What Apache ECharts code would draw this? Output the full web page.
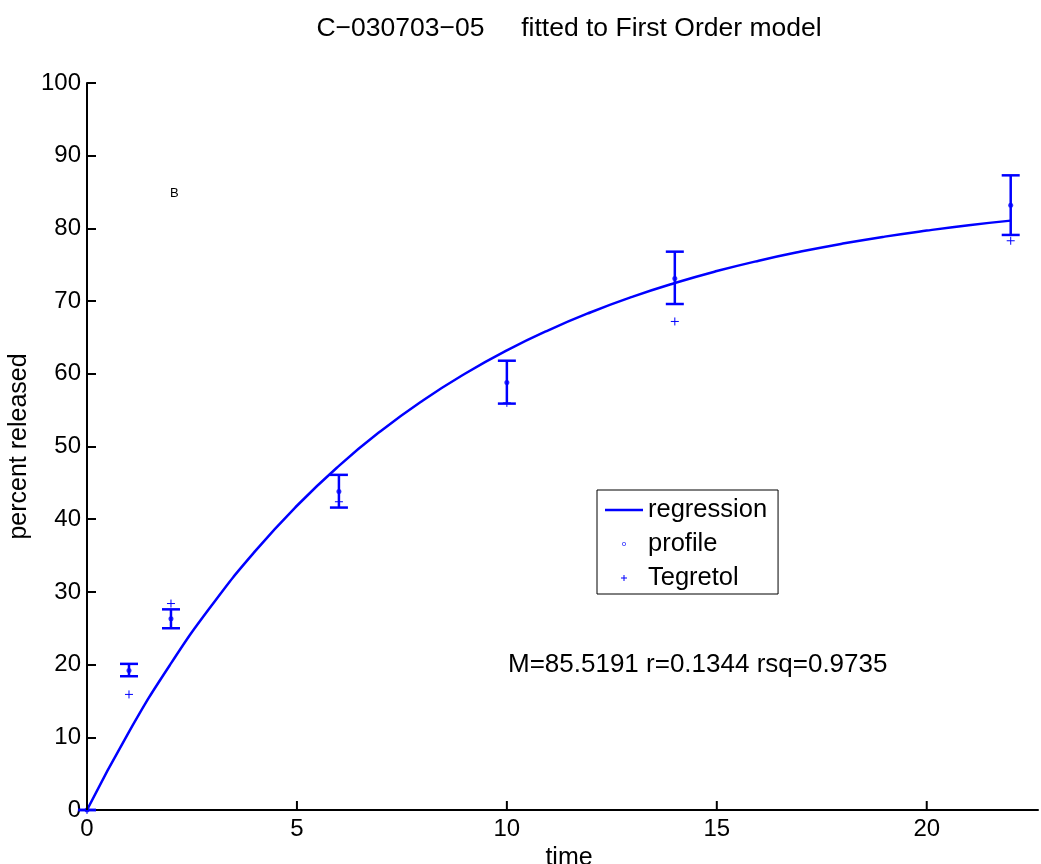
<!DOCTYPE html>
<html>
<head>
<meta charset="utf-8">
<script src="https://cdn.jsdelivr.net/npm/echarts@6/dist/echarts.min.js"></script>
<style>
html,body{margin:0;padding:0;background:#fff;}
#chart{width:1041px;height:864px;}
</style>
</head>
<body>
<div id="chart"></div>
<script>
// ---- data ----
var times        = [0, 1, 2, 6, 10, 14, 22];
var profileMean  = [0, 19.2, 26.3, 43.8, 58.8, 73.1, 83.2];
var profileLow   = [0, 18.4, 25.0, 41.6, 55.9, 69.6, 79.1];
var profileHigh  = [0, 20.1, 27.6, 46.1, 61.8, 76.8, 87.3];
var tegretol     = [0, 15.9, 28.4, 42.4, 56.0, 67.2, 78.3];

var fitTimes  = [0,1,2,3,4,5,6,7,8,9,10,11,12,13,14,15,16,17,18,19,20,21,22];
var fitValues = [0,10.76,20.16,28.38,35.57,41.85,47.34,52.14,56.34,60.01,63.22,66.02,68.47,70.62,72.49,74.13,75.56,76.81,77.91,78.87,79.70,80.44,81.07];

var xTicks = [0, 5, 10, 15, 20];
var titleText = 'C\u2212030703\u221205     fitted to First Order model';
var statsText = 'M=85.5191 r=0.1344 rsq=0.9735';

var BLUE = '#0000ff';
var FONT = '"Liberation Sans", Arial, sans-serif';

var fitData = fitTimes.map(function(t, i){ return [t, fitValues[i]]; });
var profData = times.map(function(t, i){ return [t, profileMean[i]]; });
var errData = times.map(function(t, i){ return [t, profileLow[i], profileHigh[i]]; });
var tegData = times.map(function(t, i){ return [t, tegretol[i]]; });

var chart = echarts.init(document.getElementById('chart'), null, {renderer: 'canvas'});

var option = {
  backgroundColor: '#fff',
  animation: false,
  title: {
    text: titleText,
    left: 564, top: 10, textAlign: 'center',
    textStyle: {fontFamily: FONT, fontSize: 26.5, fontWeight: 'normal', color: '#000'}
  },
  grid: {left: 87, right: 3, top: 83, bottom: 54, containLabel: false, outerBoundsMode: 'none'},
  xAxis: {
    type: 'value', min: 0, max: 22.65, interval: 5,
    axisLine: {show: true, onZero: false, lineStyle: {color: '#000', width: 2}},
    axisTick: {show: false},
    splitLine: {show: false},
    axisLabel: {
      color: '#000', fontFamily: FONT, fontSize: 24, margin: 7,
      showMaxLabel: false,
      formatter: function(v){ return (v % 5 === 0) ? String(v) : ''; }
    }
  },
  yAxis: {
    type: 'value', min: 0, max: 100, interval: 10,
    name: 'percent released', nameLocation: 'middle', nameGap: 55, nameRotate: 90,
    nameMoveOverlap: false,
    nameTextStyle: {color: '#000', fontFamily: FONT, fontSize: 25},
    axisLine: {show: true, onZero: false, lineStyle: {color: '#000', width: 2}},
    axisTick: {show: true, inside: true, length: 9, lineStyle: {color: '#000', width: 2}},
    splitLine: {show: false},
    axisLabel: {color: '#000', fontFamily: FONT, fontSize: 24, margin: 6}
  },
  legend: {
    orient: 'vertical',
    left: 597, top: 490,
    padding: [7, 11, 3, 8],
    itemWidth: 38, itemHeight: 14, itemGap: 8,
    borderColor: '#000', borderWidth: 1,
    backgroundColor: '#fff',
    textStyle: {fontFamily: FONT, fontSize: 25.5, color: '#000', lineHeight: 25},
    data: [
      {name: 'regression', icon: 'path://M0 0 M38 14 M0 5.8 L38 5.8 L38 8.2 L0 8.2 Z'},
      {name: 'profile', icon: 'path://M0 0 M38 14 M17 7 A2 2 0 1 0 21 7 A2 2 0 1 0 17 7 Z M17.8 7 A1.2 1.2 0 1 1 20.2 7 A1.2 1.2 0 1 1 17.8 7 Z'},
      {name: 'Tegretol', icon: 'path://M0 0 M38 14 M18.5 4 L19.5 4 L19.5 6.5 L22 6.5 L22 7.5 L19.5 7.5 L19.5 10 L18.5 10 L18.5 7.5 L16 7.5 L16 6.5 L18.5 6.5 Z'}
    ]
  },
  graphic: [
    {type: 'text', x: 569, y: 858, style: {text: 'time', font: '25px ' + FONT, fill: '#000', align: 'center', verticalAlign: 'middle'}},
    {type: 'text', x: 508, y: 665, style: {text: statsText, font: '26px ' + FONT, fill: '#000', align: 'left', verticalAlign: 'middle'}},
    {type: 'text', x: 170, y: 193, style: {text: 'B', font: '13px ' + FONT, fill: '#000', align: 'left', verticalAlign: 'middle'}}
  ],
  series: [
    {
      name: 'regression', type: 'line', data: fitData, smooth: true,
      symbol: 'none', showSymbol: false, clip: false,
      lineStyle: {color: BLUE, width: 2.5},
      itemStyle: {color: BLUE},
      z: 3
    },
    {
      name: 'errorbars', type: 'custom', data: errData, clip: false, z: 4,
      renderItem: function(params, api){
        var x = api.value(0);
        var lo = api.coord([x, api.value(1)]);
        var hi = api.coord([x, api.value(2)]);
        var hw = 9;
        var st = {stroke: BLUE, lineWidth: 2.5};
        return {type: 'group', children: [
          {type: 'line', shape: {x1: lo[0], y1: lo[1], x2: hi[0], y2: hi[1]}, style: st},
          {type: 'line', shape: {x1: lo[0]-hw, y1: lo[1], x2: lo[0]+hw, y2: lo[1]}, style: st},
          {type: 'line', shape: {x1: hi[0]-hw, y1: hi[1], x2: hi[0]+hw, y2: hi[1]}, style: st}
        ]};
      }
    },
    {
      name: 'profile', type: 'scatter', data: profData, clip: false, z: 5,
      symbol: 'circle', symbolSize: 5,
      itemStyle: {color: BLUE}
    },
    {
      name: 'Tegretol', type: 'custom', data: tegData, clip: false, z: 5,
      itemStyle: {color: BLUE},
      renderItem: function(params, api){
        var p = api.coord([api.value(0), api.value(1)]);
        var h = 4;
        var st = {stroke: BLUE, lineWidth: 1};
        return {type: 'group', children: [
          {type: 'line', shape: {x1: p[0]-h, y1: p[1], x2: p[0]+h, y2: p[1]}, style: st},
          {type: 'line', shape: {x1: p[0], y1: p[1]-h, x2: p[0], y2: p[1]+h}, style: st}
        ]};
      }
    },
    {
      name: 'xticks', type: 'custom', data: xTicks.map(function(v){ return [v, 0]; }),
      clip: false, z: 6, silent: true,
      renderItem: function(params, api){
        var p = api.coord([api.value(0), 0]);
        return {type: 'line', shape: {x1: p[0], y1: p[1], x2: p[0], y2: p[1]-9},
                style: {stroke: '#000', lineWidth: 2}};
      }
    }
  ]
};
chart.setOption(option);
</script>
</body>
</html>
